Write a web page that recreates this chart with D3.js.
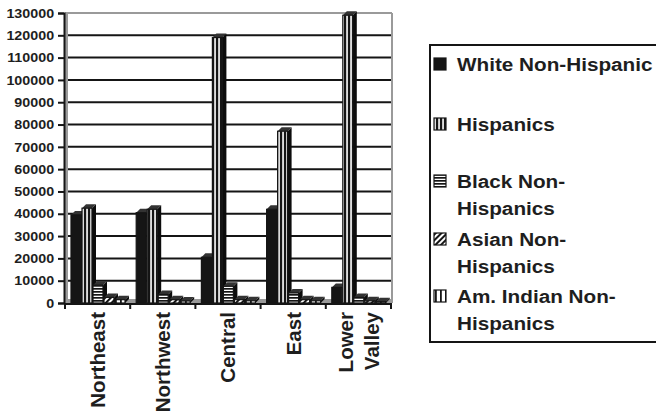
<!DOCTYPE html>
<html>
<head>
<meta charset="utf-8">
<script src="https://cdn.jsdelivr.net/npm/d3@7"></script>
<style>
  body { margin: 0; background: #fff; }
  svg { display: block; font-family: "Liberation Sans", Arial, sans-serif; font-weight: bold; }
</style>
</head>
<body>
<svg id="chart" width="656" height="414"></svg>
<script>
// Data
const regions = ["Northeast", "Northwest", "Central", "East", "Lower Valley"];
const whiteNonHispanic = [39500, 40500, 20500, 42000, 7000];
const hispanics = [42500, 42000, 119000, 77000, 129000];
const blackNonHispanics = [8000, 3800, 7500, 4500, 2500];
const asianNonHispanics = [2500, 1500, 1500, 1500, 1000];
const amIndianNonHispanics = [1500, 900, 1000, 1000, 600];
const yTicks = [0, 10000, 20000, 30000, 40000, 50000, 60000, 70000, 80000, 90000, 100000, 110000, 120000, 130000];

const seriesNames = ["White Non-Hispanic", "Hispanics", "Black Non-Hispanics", "Asian Non-Hispanics", "Am. Indian Non-Hispanics"];
const seriesValues = [whiteNonHispanic, hispanics, blackNonHispanics, asianNonHispanics, amIndianNonHispanics];
const seriesFills = ["#151515", "url(#patHisp)", "url(#patBlack)", "url(#patAsian)", "url(#patAmInd)"];
const legendLines = [["White Non-Hispanic"], ["Hispanics"], ["Black Non-", "Hispanics"], ["Asian Non-", "Hispanics"], ["Am. Indian Non-", "Hispanics"]];

const svg = d3.select("#chart");
const ink = "#151515";

// Plot area
const plotLeft = 65, plotRight = 391, plotTop = 13, plotBottom = 303;
const depth = 4; // 3D offset of the bars

const x = d3.scaleBand().domain(regions).range([plotLeft, plotRight]).padding(0);
const y = d3.scaleLinear().domain([0, 130000]).range([plotBottom, plotTop]);

// Patterns for the hatched series
const defs = svg.append("defs");
function pattern(id, w, h, draw, transform) {
    const p = defs.append("pattern").attr("id", id)
        .attr("patternUnits", "userSpaceOnUse")
        .attr("width", w).attr("height", h);
    if (transform) p.attr("patternTransform", transform);
    draw(p);
}
pattern("patHisp", 4, 4, p => {
    p.append("rect").attr("width", 4).attr("height", 4).attr("fill", "#dcdcdc");
    p.append("rect").attr("width", 2.1).attr("height", 4).attr("fill", ink);
});
pattern("patBlack", 3, 3, p => {
    p.append("rect").attr("width", 3).attr("height", 3).attr("fill", "#fff");
    p.append("rect").attr("width", 3).attr("height", 1.7).attr("fill", ink);
});
pattern("patAsian", 4, 4, p => {
    p.append("rect").attr("width", 4).attr("height", 4).attr("fill", "#fff");
    p.append("rect").attr("width", 2).attr("height", 4).attr("fill", ink);
}, "rotate(45)");
pattern("patAmInd", 5, 5, p => {
    p.append("rect").attr("width", 5).attr("height", 5).attr("fill", "#fff");
    p.append("rect").attr("width", 1.8).attr("height", 5).attr("fill", ink);
});

// Walls and floor of the 3D chart
svg.append("rect").attr("x", plotLeft).attr("y", plotBottom - 4).attr("width", plotRight - plotLeft + 1).attr("height", 4).attr("fill", "#9a9a9a");
svg.append("rect").attr("x", plotLeft).attr("y", plotTop).attr("width", 3).attr("height", plotBottom - plotTop).attr("fill", "#9a9a9a");
svg.append("line").attr("x1", plotLeft).attr("x2", plotRight + 1).attr("y1", plotTop).attr("y2", plotTop)
    .attr("stroke", "#9a9a9a").attr("stroke-width", 2);
svg.append("line").attr("x1", plotRight + 1).attr("x2", plotRight + 1).attr("y1", plotTop).attr("y2", plotBottom)
    .attr("stroke", "#9a9a9a").attr("stroke-width", 2);

// Gridlines
svg.append("g").selectAll("line")
    .data(yTicks.filter(d => d > 0 && d < 130000))
    .join("line")
    .attr("x1", plotLeft + 3).attr("x2", plotRight)
    .attr("y1", d => y(d)).attr("y2", d => y(d))
    .attr("stroke", ink).attr("stroke-width", 2);

// Bars
const step = 11, barW = 10, startOffset = 6;
regions.forEach((region, i) => {
    seriesValues.forEach((values, s) => {
        const bx = x(region) + startOffset + s * step;
        const by = y(values[i]);
        const g = svg.append("g");
        // side face
        g.append("path")
            .attr("d", `M${bx + barW},${by} L${bx + barW + depth},${by - depth} L${bx + barW + depth},${plotBottom - depth} L${bx + barW},${plotBottom} Z`)
            .attr("fill", "#0c0c0c");
        // top face
        g.append("path")
            .attr("d", `M${bx},${by} L${bx + depth},${by - depth} L${bx + barW + depth},${by - depth} L${bx + barW},${by} Z`)
            .attr("fill", "#333");
        // front face
        g.append("rect")
            .attr("x", bx).attr("y", by)
            .attr("width", barW).attr("height", plotBottom - by)
            .attr("fill", seriesFills[s])
            .attr("stroke", ink).attr("stroke-width", 1.2);
    });
});

// Y axis
const yAxis = svg.append("g")
    .attr("transform", `translate(${plotLeft - 1},0)`)
    .call(d3.axisLeft(y).tickValues(yTicks).tickSize(6).tickPadding(4).tickFormat(d => d));
yAxis.select(".domain").attr("stroke", ink).attr("stroke-width", 2);
yAxis.selectAll(".tick line").attr("stroke", ink).attr("stroke-width", 2);
yAxis.selectAll(".tick text")
    .attr("fill", "#1e1e1e")
    .attr("font-size", 13)
    .attr("font-weight", "bold")
    .attr("font-family", "Liberation Sans, Arial, sans-serif")
    .attr("x", -9)
    .attr("transform", "scale(1.1,1)");

// X axis
const xAxisY = plotBottom + 1;
svg.append("line").attr("x1", plotLeft - 1).attr("x2", plotRight + 1).attr("y1", xAxisY).attr("y2", xAxisY)
    .attr("stroke", ink).attr("stroke-width", 2);
svg.append("g").selectAll("line")
    .data(regions.map(r => x(r)).concat([plotRight]))
    .join("line")
    .attr("x1", d => d).attr("x2", d => d)
    .attr("y1", xAxisY).attr("y2", xAxisY + 5)
    .attr("stroke", ink).attr("stroke-width", 2);

// Rotated category labels
regions.forEach(region => {
    const words = region === "Lower Valley" ? ["Lower", "Valley"] : [region];
    const cx = x(region) + x.bandwidth() / 2;
    words.forEach((w, k) => {
        const lx = cx + (k - (words.length - 1) / 2) * 26;
        svg.append("text")
            .attr("transform", `translate(${lx},312) rotate(-90)`)
            .attr("text-anchor", "end")
            .attr("dy", "0.36em")
            .attr("font-size", 20.5)
            .attr("fill", "#1e1e1e")
            .text(w);
    });
});

// Legend
const legend = svg.append("g");
legend.append("rect")
    .attr("x", 430).attr("y", 45).attr("width", 240).attr("height", 297)
    .attr("fill", "none").attr("stroke", ink).attr("stroke-width", 2);
const baselines = [71, 131, 188, 246, 303];
seriesNames.forEach((name, s) => {
    const base = baselines[s];
    legend.append("rect")
        .attr("x", 434).attr("y", base - 13)
        .attr("width", 12).attr("height", 12)
        .attr("fill", seriesFills[s])
        .attr("stroke", ink).attr("stroke-width", 1.2);
    legendLines[s].forEach((line, k) => {
        legend.append("text")
            .attr("transform", `translate(457,${base + k * 27}) scale(1.12,1)`)
            .attr("font-size", 18.5)
            .attr("fill", "#1e1e1e")
            .text(line);
    });
});
</script>
</body>
</html>
